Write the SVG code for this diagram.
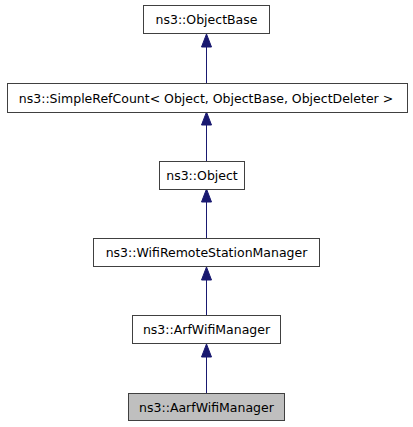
<svg xmlns="http://www.w3.org/2000/svg" width="413" height="427" viewBox="0 0 413 427">
<style>
.n rect{fill:#ffffff;stroke:#404040;stroke-width:1}
.n.cur rect{fill:#bfbfbf}
.n text{font-family:"DejaVu Sans",sans-serif;font-size:12.5px;fill:#000000;text-anchor:middle}
.e line{stroke:#191970;stroke-width:1}
.e polygon{fill:#191970;stroke:#191970;stroke-width:1}
</style>
<rect width="413" height="427" fill="#ffffff"/>
<g id="edges" class="e">
<line x1="206.5" y1="83" x2="206.5" y2="47"/><polygon points="206.5,34 201.5,47 211.5,47"/>
<line x1="206.5" y1="161" x2="206.5" y2="125"/><polygon points="206.5,112 201.5,125 211.5,125"/>
<line x1="206.5" y1="238" x2="206.5" y2="202"/><polygon points="206.5,189 201.5,202 211.5,202"/>
<line x1="206.5" y1="316" x2="206.5" y2="280"/><polygon points="206.5,267 201.5,280 211.5,280"/>
<line x1="206.5" y1="393" x2="206.5" y2="357"/><polygon points="206.5,344 201.5,357 211.5,357"/>
</g>
<g id="ObjectBase" class="n"><rect x="143.5" y="5.5" width="126" height="28"/><text x="206.5" y="24">ns3::ObjectBase</text></g>
<g id="SimpleRefCount" class="n"><rect x="7.5" y="83.5" width="400" height="29"/><text x="206" y="102.5">ns3::SimpleRefCount&lt; Object, ObjectBase, ObjectDeleter &gt;</text></g>
<g id="Object" class="n"><rect x="159.5" y="161.5" width="85" height="28"/><text x="202" y="180">ns3::Object</text></g>
<g id="WifiRemoteStationManager" class="n"><rect x="93.5" y="238.5" width="226" height="28"/><text x="206.5" y="257">ns3::WifiRemoteStationManager</text></g>
<g id="ArfWifiManager" class="n"><rect x="132.5" y="315.5" width="148" height="28"/><text x="206.5" y="334">ns3::ArfWifiManager</text></g>
<g id="AarfWifiManager" class="n cur"><rect x="128.5" y="393.5" width="156" height="27"/><text x="206.5" y="411.5">ns3::AarfWifiManager</text></g>
</svg>
